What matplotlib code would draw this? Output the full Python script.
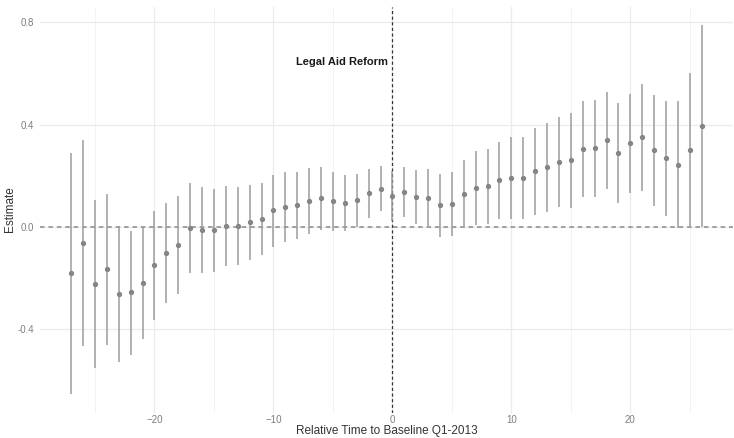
import matplotlib
matplotlib.use("Agg")
import matplotlib.pyplot as plt
import numpy as np

plt.rcParams['font.family'] = ['Liberation Sans', 'DejaVu Sans']

# relative time (quarters) and estimates with confidence bounds
rel_time = np.arange(-27, 27)
estimate = [-0.181, -0.061, -0.222, -0.166, -0.261, -0.255, -0.218, -0.149, -0.103,
            -0.070, -0.003, -0.012, -0.013, 0.003, 0.004, 0.018, 0.033, 0.065,
            0.079, 0.085, 0.103, 0.112, 0.100, 0.095, 0.106, 0.133, 0.150,
            0.121, 0.138, 0.116, 0.115, 0.085, 0.090, 0.130, 0.152, 0.159, 0.184,
            0.193, 0.193, 0.218, 0.233, 0.254, 0.261, 0.304, 0.309, 0.339,
            0.289, 0.327, 0.351, 0.300, 0.269, 0.244, 0.301, 0.394]
ci_high = [0.290, 0.340, 0.106, 0.129, 0.004, -0.014, 0.001, 0.064, 0.095,
           0.121, 0.173, 0.155, 0.147, 0.159, 0.155, 0.164, 0.173, 0.202,
           0.216, 0.216, 0.229, 0.233, 0.216, 0.203, 0.206, 0.227, 0.238,
           0.220, 0.236, 0.222, 0.226, 0.206, 0.216, 0.262, 0.296, 0.305, 0.333,
           0.353, 0.353, 0.387, 0.407, 0.429, 0.446, 0.491, 0.498, 0.528,
           0.486, 0.521, 0.559, 0.516, 0.493, 0.493, 0.603, 0.789]
ci_low = [-0.653, -0.465, -0.551, -0.461, -0.529, -0.499, -0.438, -0.364, -0.298,
          -0.262, -0.181, -0.179, -0.175, -0.152, -0.149, -0.129, -0.109, -0.077,
          -0.057, -0.047, -0.027, -0.012, -0.014, -0.014, 0.001, 0.036, 0.063,
          0.025, 0.038, 0.012, 0.004, -0.038, -0.035, 0.001, 0.009, 0.012, 0.030,
          0.030, 0.030, 0.046, 0.057, 0.077, 0.073, 0.116, 0.119, 0.149,
          0.094, 0.134, 0.140, 0.082, 0.043, -0.003, 0.001, 0.001]

estimate = np.array(estimate)
yerr = [estimate - np.array(ci_low), np.array(ci_high) - estimate]

fig = plt.figure(figsize=(7.34, 4.38), dpi=100)
ax = fig.add_axes([0.054, 0.058, 0.945, 0.927])

ax.axhline(0, color='#8a8a8a', linestyle=(0, (3, 2.5)), linewidth=1.1, zorder=1)
ax.axvline(0, color='#333333', linestyle=(0, (2.5, 2)), linewidth=0.9, zorder=1)

ax.errorbar(rel_time, estimate, yerr=yerr, fmt='o', color='#858585', ecolor='#9c9c9c',
            elinewidth=1.1, markersize=2.8, capsize=0, zorder=3)

ax.text(-4.2, 0.645, 'Legal Aid Reform', ha='center', va='center',
        fontsize=8, fontweight='bold', color='#1a1a1a')

ax.set_xlim(-29.65, 28.65)
ax.set_ylim(-0.725, 0.861)
ax.set_xticks([-20, -10, 0, 10, 20])
ax.set_xticks([-25, -15, -5, 5, 15, 25], minor=True)
ax.set_yticks([-0.4, 0.0, 0.4, 0.8])
ax.set_yticklabels(['-0.4', '0.0', '0.4', '0.8'])

ax.grid(True, which='major', color='#ebebeb', linewidth=0.9, zorder=0)
ax.grid(True, which='minor', axis='x', color='#f3f3f3', linewidth=0.7, zorder=0)
ax.set_axisbelow(True)

for s in ax.spines.values():
    s.set_visible(False)
ax.tick_params(which='both', length=0, labelsize=7, labelcolor='#7f7f7f')
ax.tick_params(axis='x', pad=2)
ax.tick_params(axis='y', pad=4)

ax.set_xlabel('Relative Time to Baseline Q1-2013', fontsize=8.5, color='#333333', labelpad=0)
ax.set_ylabel('Estimate', fontsize=8.5, color='#333333', labelpad=1)

fig.savefig('out.png', dpi=100)
